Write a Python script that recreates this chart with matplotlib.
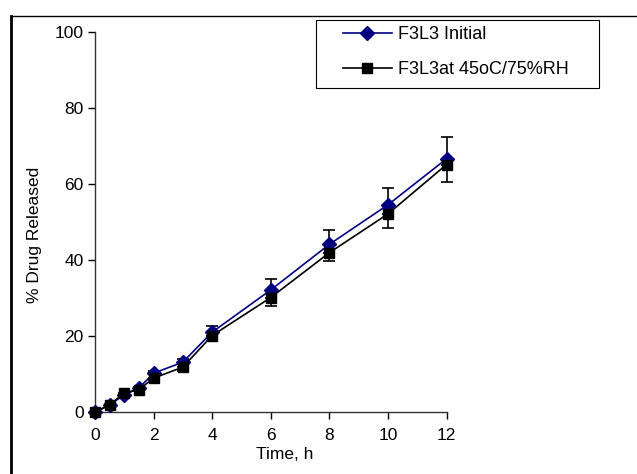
import matplotlib
matplotlib.use("Agg")
import matplotlib.pyplot as plt
from matplotlib.lines import Line2D
from matplotlib.patches import Rectangle

plt.rcParams['font.family'] = ['Liberation Sans', 'DejaVu Sans']

# time points (h)
time_h = [0, 0.5, 1, 1.5, 2, 3, 4, 6, 8, 10, 12]

# % drug released
initial = [0, 2.0, 4.6, 6.4, 10.3, 13.2, 21.1, 32.2, 44.2, 54.6, 66.7]
stored = [0, 2.0, 5.1, 6.0, 9.0, 11.9, 20.2, 30.2, 42.0, 52.2, 65.2]

# error bars (initial: upper, stored: lower)
initial_err = [0, 0.3, 0.3, 0.4, 0.5, 0.9, 1.7, 2.8, 3.7, 4.3, 5.8]
stored_err = [0, 0.3, 0.3, 0.4, 0.6, 1.0, 1.5, 2.3, 2.3, 3.8, 4.7]

labels = ["F3L3 Initial", "F3L3at 45oC/75%RH"]

fig = plt.figure(figsize=(6.37, 4.74), dpi=100)
ax = fig.add_axes([0.149, 0.130, 0.552, 0.802])

zeros = [0] * len(time_h)
ax.errorbar(time_h, initial, yerr=[zeros, initial_err], color="#000080",
            marker="D", markersize=7, linewidth=1.2, ecolor="black",
            elinewidth=1.2, capsize=4.5, capthick=1.2, label=labels[0],
            clip_on=False, zorder=3)
ax.errorbar(time_h, stored, yerr=[stored_err, zeros], color="black",
            marker="s", markersize=7, linewidth=1.2, ecolor="black",
            elinewidth=1.2, capsize=4.5, capthick=1.2, label=labels[1],
            clip_on=False, zorder=4)

ax.set_xlim(0, 12)
ax.set_ylim(0, 100)
ax.set_xticks([0, 2, 4, 6, 8, 10, 12])
ax.set_yticks([0, 20, 40, 60, 80, 100])
ax.spines['top'].set_visible(False)
ax.spines['right'].set_visible(False)
for s in ['left', 'bottom']:
    ax.spines[s].set_color("#333333")
    ax.spines[s].set_linewidth(1.0)
ax.tick_params(direction="out", length=5, width=1, labelsize=12.5, colors="black")
ax.tick_params(axis="x", pad=6)
ax.tick_params(axis="y", pad=3)

ax.set_xlabel("Time, h", fontsize=12.5)
ax.xaxis.set_label_coords(0.54, -0.091)
ax.set_ylabel("% Drug Released", fontsize=12.5)
ax.yaxis.set_label_coords(-0.151, 0.467)

# legend box drawn separately so the entries can sit inset like the original
fig.add_artist(Rectangle((315.7 / 637, 1 - 87.7 / 474), (599 - 315.7) / 637, 67.7 / 474,
                         transform=fig.transFigure, fill=False, edgecolor="black", linewidth=0.8))
handles = [Line2D([], [], color="#000080", marker="D", markersize=7, linewidth=1.2),
           Line2D([], [], color="black", marker="s", markersize=7, linewidth=1.2)]
leg = fig.legend(handles, labels, loc="upper left",
                 bbox_to_anchor=(343 / 637, 1 - 26 / 474),
                 fontsize=13, frameon=False, handlelength=2.7, handletextpad=0.33,
                 labelspacing=1.0, borderpad=0, borderaxespad=0)

# page frame lines (left and top)
fig.add_artist(Line2D([11 / 637, 11 / 637], [0, 1 - 16 / 474], color="black", linewidth=2, transform=fig.transFigure))
fig.add_artist(Line2D([11 / 637, 1], [1 - 16 / 474, 1 - 16 / 474], color="black", linewidth=1, transform=fig.transFigure))

fig.savefig("out.png", dpi=100)
